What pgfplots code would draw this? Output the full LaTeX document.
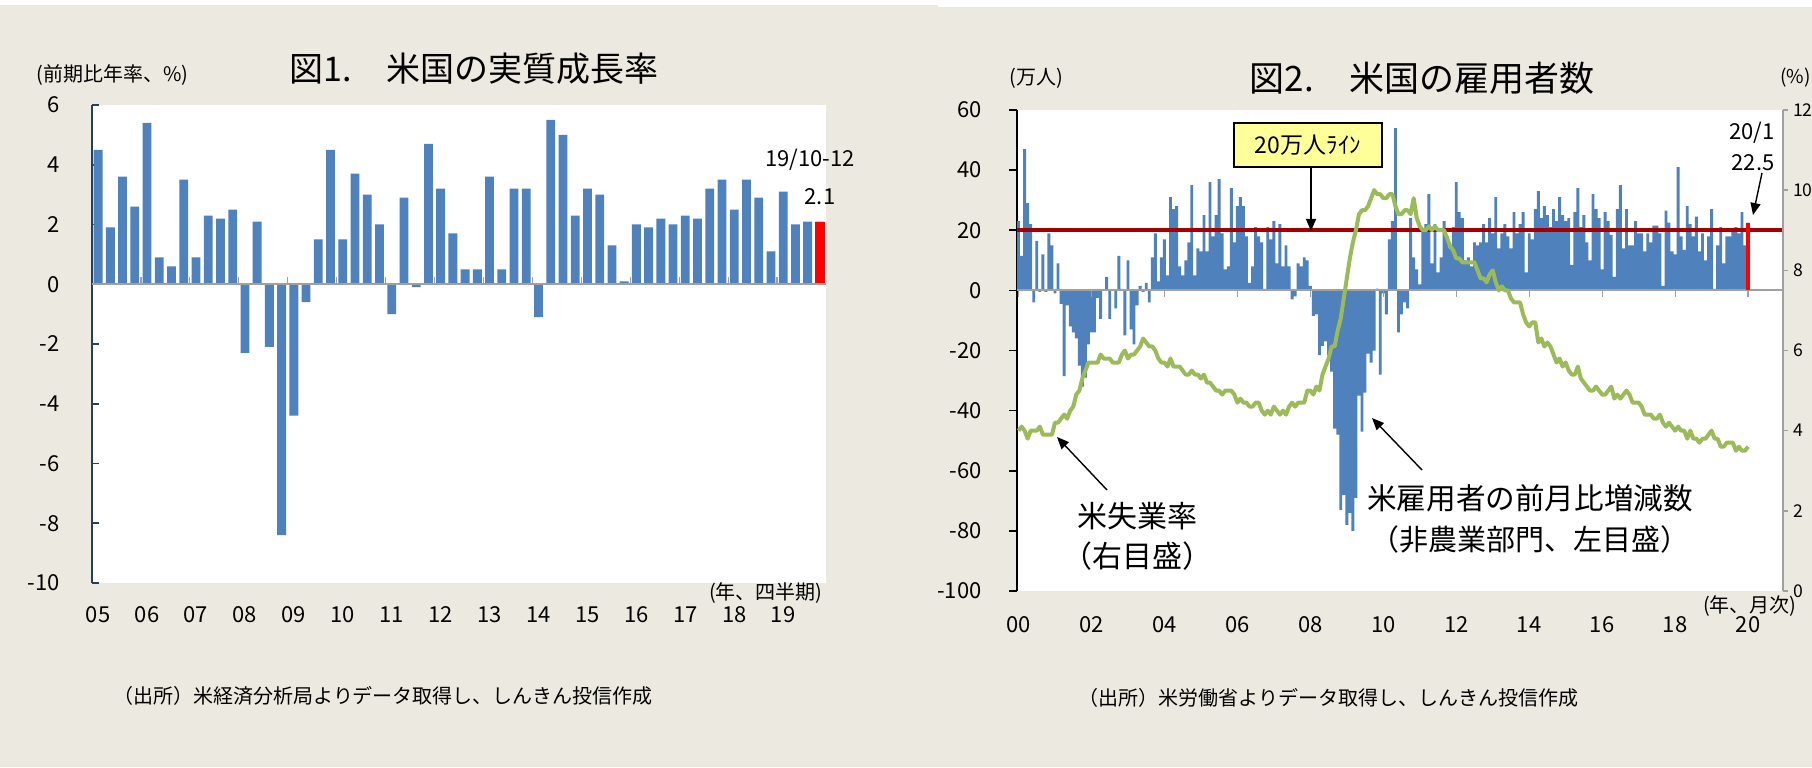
\documentclass[border=0pt]{standalone}
\usepackage{pgfplots}
\pgfplotsset{compat=1.18}
\usepackage{pgfplotstable}
\usepackage{fontspec}
\setmainfont{Noto Sans CJK JP}
\usetikzlibrary{arrows.meta}
\definecolor{bg}{RGB}{236,234,224}
\definecolor{barblue}{RGB}{79,129,189}
\definecolor{lgreen}{RGB}{155,187,89}
\definecolor{dred}{RGB}{165,0,0}
\definecolor{navy}{RGB}{36,64,97}
\definecolor{zgray}{RGB}{160,160,160}
\definecolor{boxyellow}{RGB}{255,255,153}
\newcommand{\fs}[1]{\fontsize{#1}{#1}\selectfont}

\pgfplotstableread[row sep=\\]{
g\\
4.5\\ 1.9\\ 3.6\\ 2.6\\ 5.4\\ 0.9\\ 0.6\\ 3.5\\ 0.9\\ 2.3\\ 2.2\\ 2.5\\
-2.3\\ 2.1\\ -2.1\\ -8.4\\ -4.4\\ -0.6\\ 1.5\\ 4.5\\ 1.5\\ 3.7\\ 3.0\\ 2.0\\
-1.0\\ 2.9\\ -0.1\\ 4.7\\ 3.2\\ 1.7\\ 0.5\\ 0.5\\ 3.6\\ 0.5\\ 3.2\\ 3.2\\
-1.1\\ 5.5\\ 5.0\\ 2.3\\ 3.2\\ 3.0\\ 1.3\\ 0.1\\ 2.0\\ 1.9\\ 2.2\\ 2.0\\
2.3\\ 2.2\\ 3.2\\ 3.5\\ 2.5\\ 3.5\\ 2.9\\ 1.1\\ 3.1\\ 2.0\\ 2.1\\ 2.1\\
}\gdp

\pgfplotstableread[row sep=\\]{
nfp ur\\
23 4.0\\ 11.5 4.1\\ 47 4.0\\ 29 3.8\\ 22 4.0\\ -4 4.0\\ 16.5 4.0\\ -0.5 4.1\\ 12 3.9\\ -0.5 3.9\\ 19 3.9\\ 15 3.9\\
-1 4.2\\ 9 4.2\\ -4.5 4.3\\ -28.5 4.4\\ -5 4.3\\ -12 4.5\\ -14 4.6\\ -16 4.9\\ -25 5.0\\ -32 5.3\\ -29 5.5\\ -18 5.7\\
-14 5.7\\ -14 5.7\\ -2.5 5.7\\ -9.5 5.9\\ 0 5.8\\ 4.5 5.8\\ -9.5 5.8\\ 0 5.7\\ -6 5.7\\ 11.5 5.7\\ 0.5 5.9\\ -15 6.0\\
10 5.8\\ -13 5.9\\ -18 5.9\\ -5 6.0\\ 1.5 6.1\\ -0.5 6.3\\ 2.5 6.2\\ -4 6.1\\ 11 6.1\\ 19 6.0\\ 3 5.8\\ 11 5.7\\
17 5.7\\ 5 5.6\\ 31 5.8\\ 27 5.6\\ 28 5.6\\ 8 5.6\\ 5 5.5\\ 10 5.4\\ 16 5.4\\ 35 5.5\\ 5 5.4\\ 14 5.4\\
13 5.3\\ 25 5.4\\ 13 5.2\\ 36 5.2\\ 18 5.1\\ 25 5.0\\ 37 5.0\\ 19 4.9\\ 7 5.0\\ 8 5.0\\ 34 5.0\\ 16 4.9\\
28 4.7\\ 31 4.8\\ 28 4.7\\ 18 4.7\\ 2.5 4.6\\ 8 4.6\\ 21 4.7\\ 18 4.7\\ 16 4.5\\ 0.5 4.4\\ 21 4.5\\ 17 4.4\\
23 4.6\\ 9 4.5\\ 22 4.4\\ 8 4.5\\ 15 4.4\\ 8 4.6\\ -3 4.7\\ -2 4.6\\ 9 4.7\\ 8 4.7\\ 11 4.7\\ 10 5.0\\
1.5 5.0\\ -8.5 4.9\\ -8 5.1\\ -21.5 5.0\\ -18.5 5.4\\ -17 5.6\\ -21.5 5.8\\ -27 6.1\\ -46 6.1\\ -48 6.5\\ -73 6.8\\ -68 7.3\\
-78 7.8\\ -74 8.3\\ -80 8.7\\ -69 9.0\\ -35 9.4\\ -47 9.5\\ -34 9.5\\ -21 9.6\\ -24 9.8\\ -20 10.0\\ 0.6 9.9\\ -28 9.9\\
-1 9.8\\ -8 9.8\\ 17 9.9\\ 23 9.9\\ 54 9.6\\ -14 9.4\\ -8 9.4\\ -4 9.5\\ -6 9.5\\ 24 9.4\\ 11 9.8\\ 7 9.3\\
2 9.1\\ 20 9.0\\ 22 9.0\\ 32 9.1\\ 9 9.0\\ 22 9.1\\ 6 9.0\\ 11 9.0\\ 23 9.0\\ 18 8.8\\ 14 8.6\\ 21 8.5\\
36 8.3\\ 26 8.3\\ 24 8.2\\ 10 8.2\\ 11 8.2\\ 8 8.2\\ 16 8.2\\ 15 8.0\\ 16 7.8\\ 22 7.8\\ 16 7.7\\ 24 7.9\\
19 8.0\\ 31 7.7\\ 14 7.5\\ 19 7.6\\ 22 7.5\\ 18 7.5\\ 14 7.3\\ 26 7.2\\ 19 7.2\\ 22 7.2\\ 26 6.9\\ 6 6.7\\
19 6.6\\ 17 6.7\\ 27 6.7\\ 33 6.2\\ 24 6.3\\ 28 6.1\\ 25 6.2\\ 21 6.1\\ 27 5.9\\ 23 5.7\\ 31 5.8\\ 25 5.6\\
23 5.7\\ 24 5.5\\ 8.5 5.4\\ 26 5.4\\ 34 5.6\\ 21 5.3\\ 25 5.2\\ 16 5.1\\ 10 5.0\\ 32 5.0\\ 27 5.1\\ 24 5.0\\
7 4.9\\ 26 4.9\\ 23 5.0\\ 18.5 5.1\\ 4.5 4.8\\ 27 4.9\\ 35 4.8\\ 14 4.9\\ 27 5.0\\ 15 4.9\\ 15 4.7\\ 23 4.7\\
19 4.7\\ 19 4.6\\ 13 4.4\\ 19 4.4\\ 16 4.4\\ 21.5 4.3\\ 21.5 4.3\\ 19 4.4\\ 1.5 4.2\\ 26.5 4.1\\ 22.5 4.2\\ 13 4.1\\
12 4.0\\ 41 4.1\\ 18 4.0\\ 13.5 4.0\\ 28 3.8\\ 22 4.0\\ 18 3.8\\ 24.5 3.8\\ 13 3.7\\ 19 3.8\\ 10 3.8\\ 18 3.9\\
27 4.0\\ 0.5 3.8\\ 15 3.8\\ 21 3.6\\ 9 3.6\\ 18 3.7\\ 18 3.7\\ 19.5 3.7\\ 21 3.5\\ 19 3.6\\ 26 3.5\\ 15 3.5\\
22.5 3.6\\
}\emp

\begin{document}
\begin{tikzpicture}
\useasboundingbox (0pt,0pt) rectangle (906pt,383.5pt);
\clip (0pt,0pt) rectangle (906pt,383.5pt);
\fill[bg] (0pt,0pt) rectangle (906pt,383.5pt);
\fill[white] (0pt,381pt) rectangle (469pt,383.5pt);
\fill[white] (469pt,380pt) rectangle (906pt,383.5pt);

% ---------------- Figure 1 ----------------
\begin{axis}[
  at={(46pt,92pt)}, anchor=south west, scale only axis,
  width=367pt, height=239pt,
  xmin=0, xmax=60, ymin=-10, ymax=6,
  axis background/.style={fill=white},
  axis lines*=left,
  x axis line style={draw=none},
  y axis line style={draw=navy, line width=0.8pt},
  ytick={-10,-8,...,6},
  yticklabels={-10,-8,-6,-4,-2,0,2,4,6},
  ytick style={draw=navy, line width=0.8pt},
  tick align=inside, major tick length=3.5pt,
  xtick={0.5,4.5,...,56.5},
  xticklabels={05,06,07,08,09,10,11,12,13,14,15,16,17,18,19},
  xtick style={draw=none},
  tick label style={font=\fs{11}, text=black},
  yticklabel style={anchor=east, inner sep=0pt, xshift=-16pt},
  xticklabel style={anchor=center, inner sep=0pt, yshift=-16pt},
  clip=false,
]
\addplot[ybar, bar width=0.72, bar shift=0pt, fill=barblue, draw=none] table[x expr=\coordindex+0.5, y=g] {\gdp};
\addplot[ybar, bar width=0.76, bar shift=0pt, fill=red, draw=none] coordinates {(59.5,2.1)};
\draw[zgray, line width=1pt] (axis cs:0,0) -- (axis cs:60,0);
\pgfplotsinvokeforeach{4,8,...,56}{\draw[zgray, line width=0.6pt] (axis cs:#1,0) -- ++(0pt,3.5pt);}
\end{axis}

\node[font=\fs{17}] at (237pt,349pt) {図1.　米国の実質成長率};
\node[font=\fs{10}, anchor=west, inner sep=0pt] at (18pt,346pt) {(前期比年率、\%)};
\node[font=\fs{11}] at (405pt,303.5pt) {19/10-12};
\node[font=\fs{11}] at (410pt,285pt) {2.1};
\node[font=\fs{10}, anchor=east, inner sep=0pt] at (411.5pt,87pt) {(年、四半期)};
\node[font=\fs{10}, anchor=west, inner sep=0pt] at (56.5pt,35.5pt) {（出所）米経済分析局よりデータ取得し、しんきん投信作成};

% ---------------- Figure 2 ----------------
\begin{axis}[
  at={(508.5pt,88pt)}, anchor=south west, scale only axis,
  width=383pt, height=240.5pt,
  xmin=-0.5, xmax=251.5, ymin=-100, ymax=60,
  axis background/.style={fill=white},
  axis lines*=left,
  x axis line style={draw=none},
  y axis line style={draw=black, line width=0.8pt},
  ytick={-100,-80,...,60},
  yticklabels={-100,-80,-60,-40,-20,0,20,40,60},
  ytick style={draw=black, line width=0.8pt},
  tick align=outside, major tick length=4pt,
  xtick={0,24,...,240},
  xticklabels={00,02,04,06,08,10,12,14,16,18,20},
  xtick style={draw=none},
  tick label style={font=\fs{11}, text=black},
  yticklabel style={anchor=east, inner sep=0pt, xshift=-13.5pt},
  xticklabel style={anchor=center, inner sep=0pt, yshift=-13pt},
  clip=false,
]
\addplot[ybar, bar width=0.95, bar shift=0pt, fill=barblue, draw=none] table[x expr=\coordindex, y=nfp] {\emp};
\draw[zgray, line width=1pt] (axis cs:-0.5,0) -- (axis cs:251.5,0);
\pgfplotsinvokeforeach{0,24,...,240}{\draw[zgray, line width=0.6pt] (axis cs:#1,0) -- ++(0pt,-3.5pt);}
\draw[dred, line width=1.8pt] (axis cs:-0.5,20) -- (axis cs:251.5,20);
\addplot[ybar, bar width=1.2, bar shift=0pt, fill=red, draw=none] coordinates {(240,22.5)};
\end{axis}

\begin{axis}[
  at={(508.5pt,88pt)}, anchor=south west, scale only axis,
  width=383pt, height=240.5pt,
  xmin=-0.5, xmax=251.5, ymin=0, ymax=12,
  axis x line=none, axis y line*=right,
  y axis line style={draw=zgray, line width=0.8pt},
  ytick={0,2,...,12},
  yticklabels={0,2,4,6,8,10,12},
  ytick style={draw=zgray, line width=0.8pt},
  tick align=outside, major tick length=2.5pt,
  tick label style={font=\fs{8.8}, text=black},
  yticklabel style={anchor=west, inner sep=0pt, xshift=2.3pt},
  clip=false,
]
\addplot[lgreen, line width=2pt, line join=round, mark=none] table[x expr=\coordindex, y=ur] {\emp};
\end{axis}

\node[font=\fs{17.5}] at (711pt,344.5pt) {図2.　米国の雇用者数};
\node[font=\fs{10}] at (518pt,344.5pt) {(万人)};
\node[font=\fs{9.5}, anchor=west, inner sep=0pt] at (890pt,344.5pt) {(\%)};
\node[draw=black, line width=0.8pt, fill=boxyellow, minimum width=74pt, minimum height=22pt, inner sep=0pt, font=\fs{11.5}] (box) at (654pt,311pt) {20万人ﾗｲﾝ};
\draw[line width=0.7pt, -{Triangle[length=6pt,width=5pt]}] (655.5pt,299.5pt) -- (655.5pt,268pt);
\node[font=\fs{11}] at (876pt,317pt) {20/1};
\node[font=\fs{11}] at (876.5pt,302pt) {22.5};
\draw[line width=0.7pt, -{Triangle[length=6pt,width=5pt]}] (881pt,297pt) -- (876.5pt,276pt);
\node[font=\fs{15}] at (568.75pt,125.25pt) {米失業率};
\node[font=\fs{15}] at (568.75pt,105.25pt) {（右目盛）};
\draw[line width=0.7pt, -{Triangle[length=6pt,width=5pt]}] (553.5pt,138.5pt) -- (528.5pt,165pt);
\node[font=\fs{14.8}] at (765pt,134.5pt) {米雇用者の前月比増減数};
\node[font=\fs{14.5}] at (765pt,113.75pt) {（非農業部門、左目盛）};
\draw[line width=0.7pt, -{Triangle[length=6pt,width=5pt]}] (711pt,148.5pt) -- (686pt,174.5pt);
\node[font=\fs{10}, anchor=east, inner sep=0pt] at (898.5pt,80.5pt) {(年、月次)};
\node[font=\fs{10}, anchor=west, inner sep=0pt] at (539pt,34.5pt) {（出所）米労働省よりデータ取得し、しんきん投信作成};
\end{tikzpicture}
\end{document}
